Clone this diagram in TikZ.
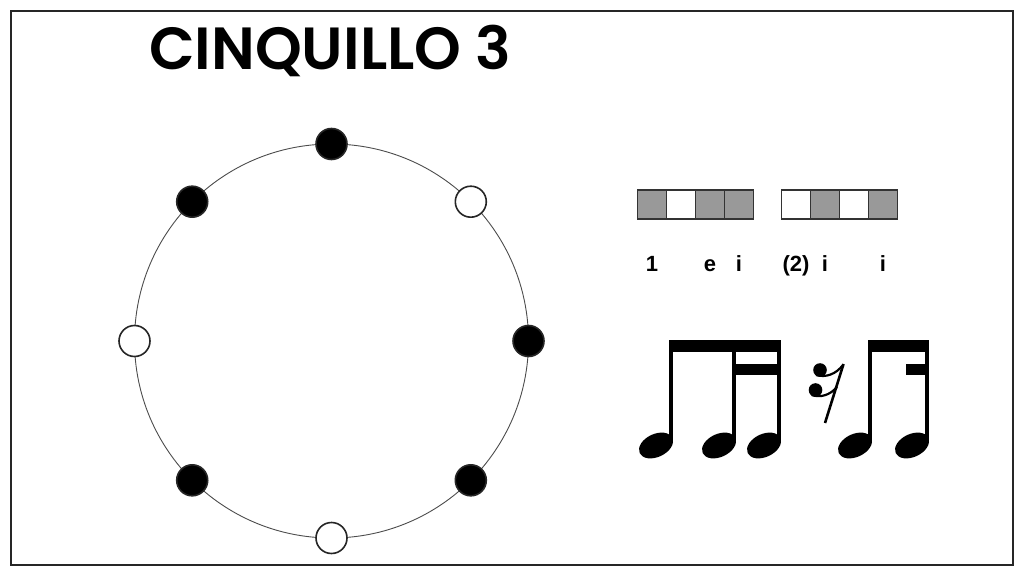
\documentclass[tikz,border=0pt]{standalone}
\usepackage{fontspec}
\setmainfont{Liberation Sans}
\newfontfamily\titlefont{Poppins}[UprightFont=* SemiBold]
\usepackage{tikz}
\usetikzlibrary{shapes.geometric}
\usetikzlibrary{positioning, calc}

\begin{document}
\begin{tikzpicture}[
        x=1pt, y=1pt,
        beat/.style={circle, minimum size=31, inner sep=0, line width=1.6, draw=black!85},
        cell/.style={rectangle, minimum width=29, minimum height=29, inner sep=0, line width=1.6, draw=black!80},
        count/.style={anchor=base, inner sep=0, font=\fontsize{22}{22}\selectfont\bfseries},
        head/.style={ellipse, fill=black, minimum width=36, minimum height=23, inner sep=0, rotate=25}
    ]
        \useasboundingbox (0,0) rectangle (1024,576);
        \draw[line width=1.6, draw=black!85] (11,11) rectangle (1013,565);

        % ===== 标题 =====
        \node (title) [anchor=base west, inner sep=0] at (149,506)
            {\titlefont\fontsize{59.5}{60}\selectfont CINQUILLO 3};

        % ===== 节奏圆 =====
        \coordinate (ctr) at (331.5,235);
        \draw[black!70, line width=0.9] (ctr) circle (197);
        \foreach \k/\c in {0/black,1/white,2/black,3/black,4/white,5/black,6/white,7/black}
            \node (beat\k) [beat, fill=\c] at ($(ctr)+({90-45*\k}:197)$) {};

        % ===== 方格 =====
        \foreach \k/\c in {0/black!40,1/white,2/black!40,3/black!40}
            \node (cellA\k) [cell, fill=\c] at ({652+29*\k},371.5) {};
        \foreach \k/\c in {0/white,1/black!40,2/white,3/black!40}
            \node (cellB\k) [cell, fill=\c] at ({796+29*\k},371.5) {};

        % ===== 计数 =====
        \node (c1) [count] at (cellA0 |- 0,304) {1};
        \node (c2) [count] at (cellA2 |- 0,304) {e};
        \node (c3) [count] at (cellA3 |- 0,304) {i};
        \node (c4) [count] at (cellB0 |- 0,304) {(2)};
        \node (c5) [count] at (cellB1 |- 0,304) {i};
        \node (c6) [count] at (cellB3 |- 0,304) {i};

        % ===== 音符 =====
        \foreach \x [count=\i] in {673,736,781,872,929} {
            \node (note\i) [head] at (\x-17,130.5) {};
            \fill (\x-4,133) rectangle (\x,236);
        }
        % 符杠
        \fill (669,224) rectangle (781,236);
        \fill (732,201) rectangle (781,212);
        \fill (868,224) rectangle (929,236);
        \fill (906,201) rectangle (929,212);

        % 十六分休止符
        \draw[line width=2.6] (843.5,212) -- (825,153);
        \fill (820,206) circle (6.8);
        \fill (815.5,186) circle (6.8);
        \draw[line width=2.2] (816,201) .. controls (826,198) and (836,202) .. (843,211);
        \draw[line width=2.2] (811.5,181) .. controls (821,178) and (830,181) .. (837,189);

    \end{tikzpicture}
\end{document}
